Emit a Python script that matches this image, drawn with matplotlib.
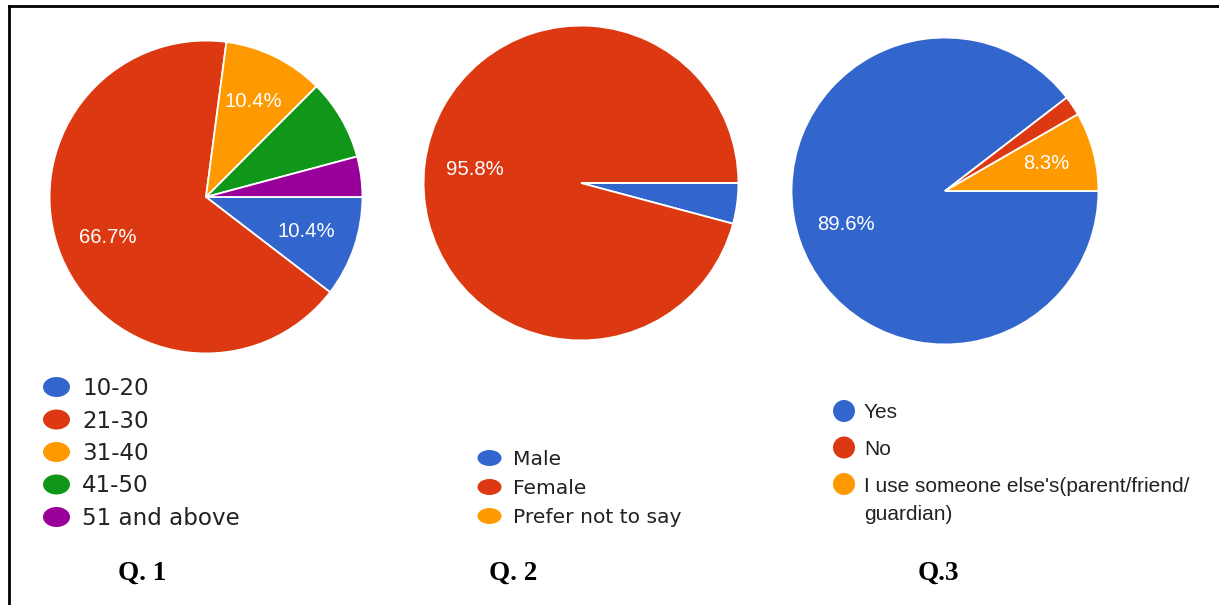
import matplotlib
matplotlib.use("Agg")
import matplotlib.pyplot as plt
from matplotlib.patches import Ellipse
from matplotlib.lines import Line2D
import numpy as np

# ---------------- data ----------------
q1_labels = ["10-20", "21-30", "31-40", "41-50", "51 and above"]
q1_counts = [5, 32, 5, 4, 2]
q1_show = [True, True, True, False, False]

q2_labels = ["Male", "Female", "Prefer not to say"]
q2_counts = [2, 46, 0]
q2_show = [False, True, False]

q3_labels = ["Yes", "No", "I use someone else's(parent/friend/\nguardian)"]
q3_counts = [43, 1, 4]
q3_show = [True, False, True]

titles = ["Q. 1", "Q. 2", "Q.3"]

palette = ["#3366CC", "#DC3912", "#FF9900", "#109618", "#990099"]

W, H = 1219, 605
fig = plt.figure(figsize=(W / 100, H / 100), dpi=100)
fig.patch.set_facecolor("white")


def fx(x):
    return x / W


def fy(y):
    return 1 - y / H


def draw_pie(cx, cy, R, counts, show):
    ax = fig.add_axes([fx(cx - R), fy(cy + R), 2 * R / W, 2 * R / H])
    total = sum(counts)
    wedges, _ = ax.pie(counts, colors=palette[:len(counts)], startangle=0,
                       counterclock=False, radius=1,
                       wedgeprops=dict(edgecolor="white", linewidth=1.3))
    ax.set_xlim(-1.01, 1.01)
    ax.set_ylim(-1.01, 1.01)
    ax.set_aspect("equal")
    ax.axis("off")
    for w, c, s in zip(wedges, counts, show):
        if not s:
            continue
        mid = np.deg2rad((w.theta1 + w.theta2) / 2)
        r = 0.68
        ax.text(r * np.cos(mid), r * np.sin(mid), f"{100 * c / total:.1f}%",
                ha="center", va="center", color="white",
                fontsize=14.6, family="Liberation Sans")
    return ax


draw_pie(206, 197, 158, q1_counts, q1_show)
draw_pie(581, 183, 159, q2_counts, q2_show)
draw_pie(945, 191, 155, q3_counts, q3_show)


def draw_legend(labels, mx, text_x, y0, dy, ew, eh, fsize, family, cap,
                line_px=29):
    for i, lab in enumerate(labels):
        y = y0 + i * dy
        fig.add_artist(Ellipse((fx(mx), fy(y)), ew / W, eh / H,
                               transform=fig.transFigure,
                               facecolor=palette[i], edgecolor="none"))
        n_extra = lab.count("\n")
        fig.text(fx(text_x), fy(y + cap / 2 + n_extra * line_px), lab,
                 ha="left", va="baseline",
                 fontsize=fsize, family=family, color="#222222",
                 linespacing=1.6)


draw_legend(q1_labels, 56.5, 82, 387, 32.5, 27, 20, 16.6, "DejaVu Sans", 16)
draw_legend(q2_labels, 489.5, 513, 458, 29, 24, 16, 14.6, "DejaVu Sans", 14)
draw_legend(q3_labels, 844, 864, 411, 36.5, 22, 22, 15, "Liberation Sans", 15)

# titles
for t, x in zip(titles, [142.5, 513, 938]):
    fig.text(fx(x), fy(573), t, ha="center", va="center", fontsize=19.5,
             family="Liberation Serif", fontweight="bold", color="black")

# border (L-shaped, the rest lies outside the crop)
fig.add_artist(Line2D([fx(8.7), fx(8.7)], [fy(5.5), 0], transform=fig.transFigure,
                      color="black", linewidth=2.0))
fig.add_artist(Line2D([fx(8.7), 1], [fy(5.5), fy(5.5)], transform=fig.transFigure,
                      color="black", linewidth=2.0))

fig.savefig("out.png", dpi=100)
